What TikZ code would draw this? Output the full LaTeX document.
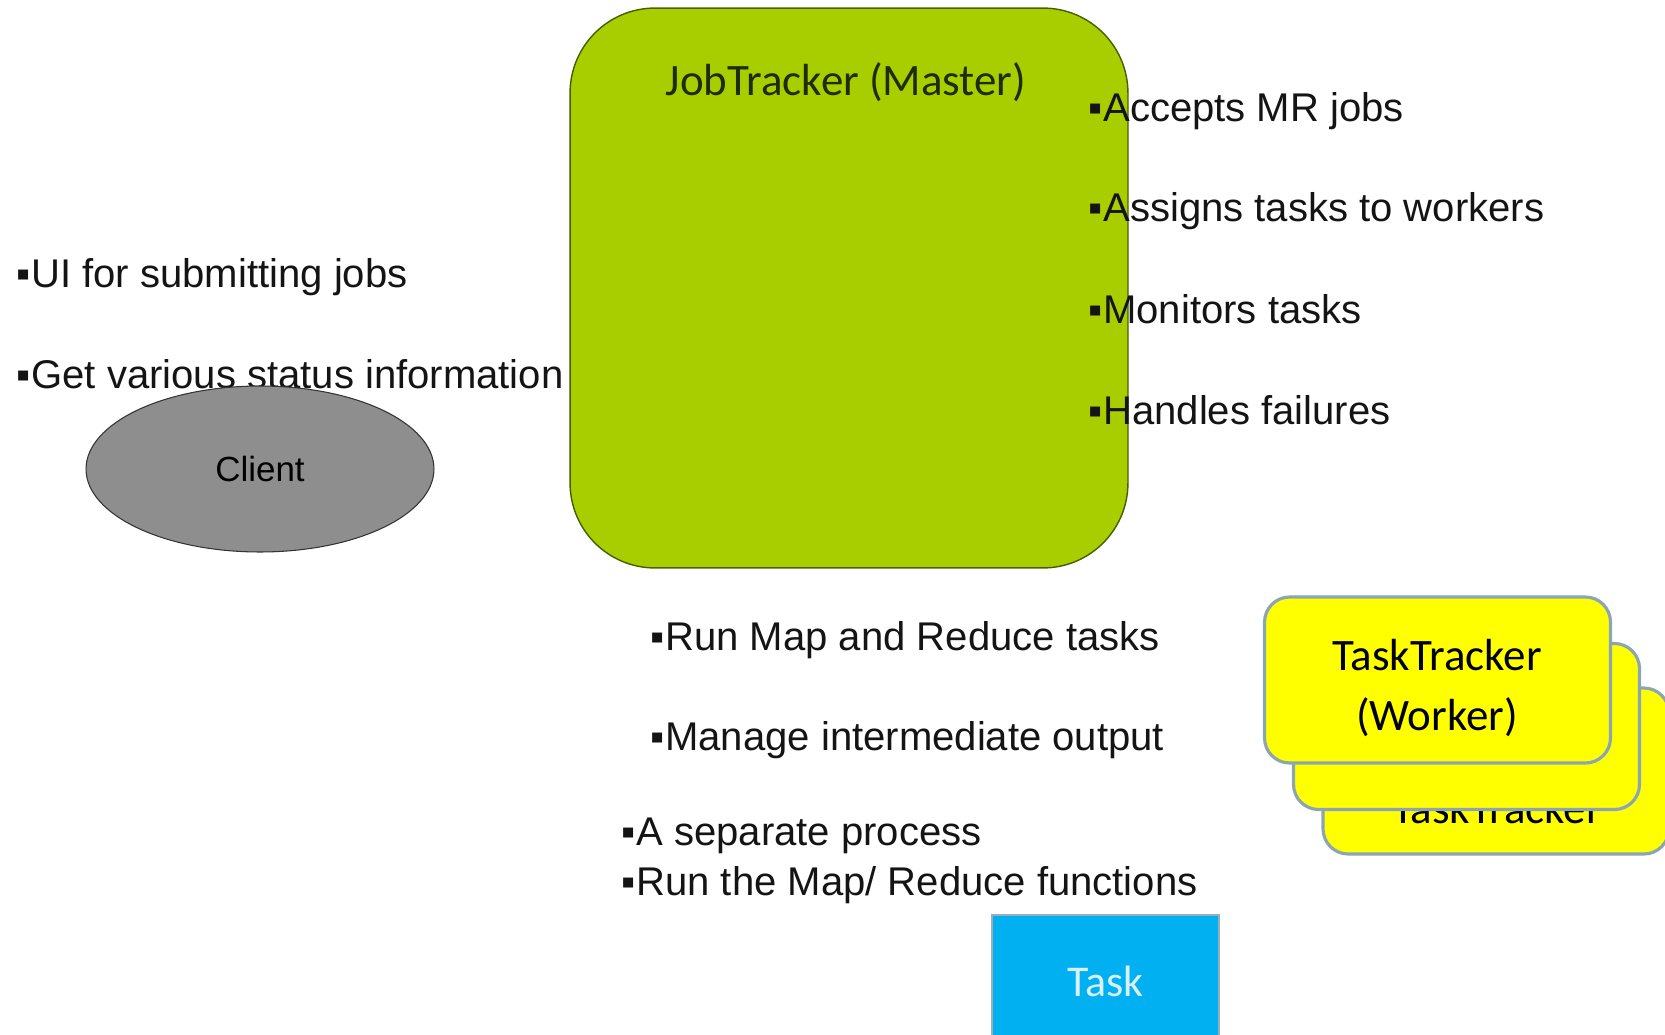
\documentclass[tikz,border=0pt]{standalone}
\usepackage{fontspec}
\setmainfont{Liberation Sans}
\newfontfamily\calibri{Carlito}
\usetikzlibrary{shapes.geometric}

\definecolor{mastergreen}{RGB}{168,206,0}
\definecolor{masterline}{RGB}{70,95,0}
\definecolor{mastertext}{RGB}{30,45,0}
\definecolor{workeryellow}{RGB}{255,255,0}
\definecolor{workerline}{RGB}{140,165,180}
\definecolor{taskblue}{RGB}{0,176,240}
\definecolor{taskline}{RGB}{150,175,185}
\definecolor{tasktext}{RGB}{215,240,250}
\definecolor{clientgray}{RGB}{142,142,142}
\definecolor{bullettext}{RGB}{20,20,20}

\newcommand{\bul}{▪\kern0.02em}

\begin{document}
\begin{tikzpicture}[
		x=0.02cm, y=-0.02cm,
		% Define styles for nodes
		bullet/.style={anchor=base west, inner sep=0pt, text=bullettext, font=\fontsize{22.8}{27}\selectfont},
		master/.style={draw=masterline, line width=0.8pt, fill=mastergreen, rounded corners=1.7cm, minimum width=11.16cm, minimum height=11.2cm},
		worker/.style={draw=workerline, line width=1.8pt, fill=workeryellow, rounded corners=0.5cm, minimum width=6.92cm, minimum height=3.32cm},
		taskbox/.style={draw=taskline, line width=1pt, fill=taskblue, text=tasktext, minimum width=4.54cm, minimum height=2.64cm, font=\calibri\fontsize{25}{30}\selectfont},
		client/.style={draw=black!80, line width=0.6pt, fill=clientgray, ellipse, inner sep=0pt, minimum width=6.96cm, minimum height=3.32cm, font=\fontsize{19.9}{24}\selectfont},
		boxlabel/.style={inner sep=0pt, align=center, font=\calibri\fontsize{25.6}{34}\selectfont}
	]
	\clip (0,0) rectangle (1665,1034);

	% Master
	\node[master] (master) at (849,288) {};
	\node[boxlabel, text=mastertext] (mastertitle) at (846,82) {JobTracker (Master)};
	\node[bullet] (accepts) at (1088,121) {\bul Accepts MR jobs};
	\node[bullet] (assigns) at (1088,221) {\bul Assigns tasks to workers};
	\node[bullet] (monitors) at (1088,323) {\bul Monitors tasks};
	\node[bullet] (handles) at (1088,424) {\bul Handles failures};

	% Client
	\node[bullet] (submit) at (16,287) {\bul UI for submitting jobs};
	\node[bullet] (status) at (16,388) {\bul Get various status information};
	\node[client] (client) at (260,469) {Client};

	% Workers
	\node[bullet] (runtasks) at (650,650) {\bul Run Map and Reduce tasks};
	\node[bullet] (manage) at (650,750) {\bul Manage intermediate output};
	\node[worker] (worker3) at (1496,771) {};
	\node[boxlabel] (worker3label) at (1497,808) {TaskTracker};
	\node[worker] (worker2) at (1466.5,726.5) {};
	\node[worker] (worker1) at (1437.5,680) {};
	\node[boxlabel] (worker1label) at (1437,688) {TaskTracker\\(Worker)};

	% Task
	\node[bullet] (process) at (621,845) {\bul A separate process};
	\node[bullet] (runfuncs) at (621,895) {\bul Run the Map/ Reduce functions};
	\node[taskbox] (task) at (1105.5,981) {Task};
\end{tikzpicture}
\end{document}
